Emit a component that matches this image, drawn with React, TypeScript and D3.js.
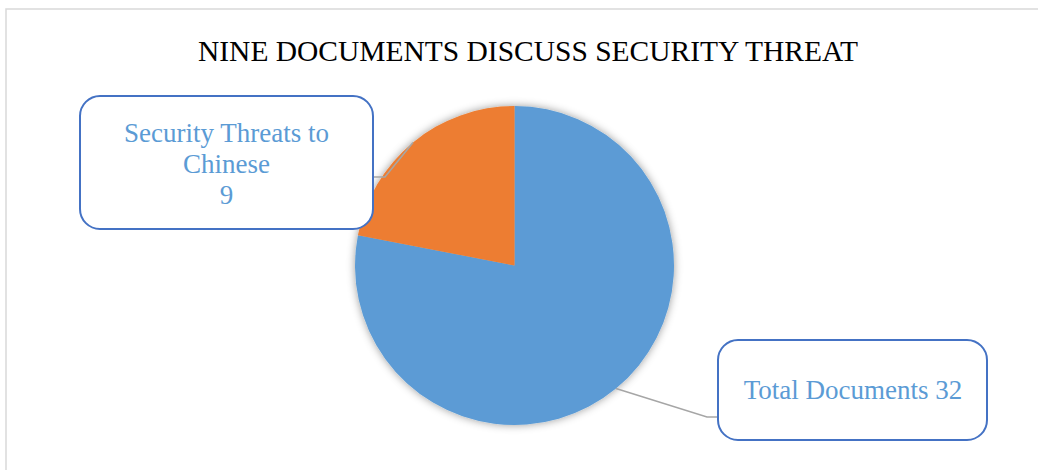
import React from "react";
import * as d3 from "d3";

const categories = ["Total Documents", "Security Threats to Chinese"];
const values = [32, 9];
const colors = ["#5B9BD5", "#ED7D31"];
const title = "NINE DOCUMENTS DISCUSS SECURITY THREAT";

const W = 1038;
const H = 470;
const cx = 514.5;
const cy = 265.5;
const R = 159.5;

export default function App() {
  const pie = d3.pie<number>().sort(null).value((d) => d);
  const arcs = pie(values);
  const arc = d3.arc<d3.PieArcDatum<number>>().innerRadius(0).outerRadius(R);

  const midPt = (a: d3.PieArcDatum<number>) => {
    const m = (a.startAngle + a.endAngle) / 2;
    return [cx + R * Math.sin(m), cy - R * Math.cos(m)];
  };
  const pBlue = midPt(arcs[0]);
  const pOrange = midPt(arcs[1]);

  const font = "'Liberation Serif', 'Times New Roman', serif";
  const txtColor = "#5B9BD5";
  const boxStroke = "#4472C4";

  return (
    <svg
      width={W}
      height={H}
      style={{ position: "absolute", left: 0, top: 0, background: "#fff" }}
    >
      <defs>
        <filter id="sh" x="-20%" y="-20%" width="140%" height="140%">
          <feDropShadow dx="0" dy="0" stdDeviation="4" floodColor="#000" floodOpacity="0.4" />
        </filter>
      </defs>
      <rect x={6} y={9} width={W} height={H} fill="#fff" stroke="#d9d9d9" strokeWidth={1.5} />
      <text
        x={528}
        y={61}
        textAnchor="middle"
        fontFamily={font}
        fontSize={30}
        fill="#000"
        textLength={660}
        lengthAdjust="spacingAndGlyphs"
      >
        {title}
      </text>
      <g transform={`translate(${cx},${cy})`} filter="url(#sh)">
        {arcs.map((a, i) => (
          <path key={categories[i]} d={arc(a) || ""} fill={colors[i]} />
        ))}
      </g>
      <polyline
        points={`${pOrange[0]},${pOrange[1]} 385,177 373,177`}
        fill="none"
        stroke="#a6a6a6"
        strokeWidth={1.5}
      />
      <polyline
        points={`${pBlue[0]},${pBlue[1]} 707,417 718,417`}
        fill="none"
        stroke="#a6a6a6"
        strokeWidth={1.5}
      />
      <rect x={80} y={96} width={293} height={133} rx={20} ry={20} fill="#fff" stroke={boxStroke} strokeWidth={2} />
      <text fontFamily={font} fontSize={27} fill={txtColor} textAnchor="middle">
        <tspan x={226.5} y={142}>Security Threats to</tspan>
        <tspan x={226.5} y={173}>Chinese</tspan>
        <tspan x={226.5} y={204}>{values[1]}</tspan>
      </text>
      <rect x={718} y={340} width={269} height={100} rx={20} ry={20} fill="#fff" stroke={boxStroke} strokeWidth={2} />
      <text x={853} y={399} fontFamily={font} fontSize={27} fill={txtColor} textAnchor="middle">
        {`${categories[0]} ${values[0]}`}
      </text>
    </svg>
  );
}
